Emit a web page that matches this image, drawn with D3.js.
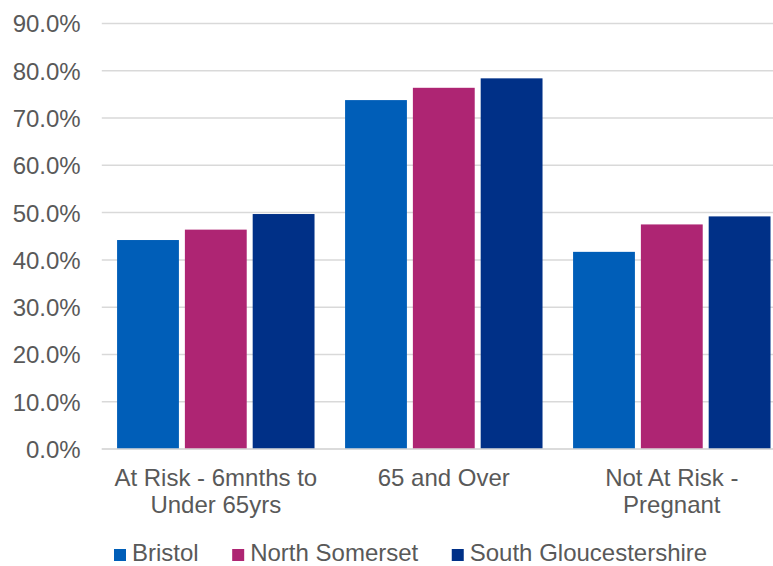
<!DOCTYPE html>
<html>
<head>
<meta charset="utf-8">
<script src="https://cdn.jsdelivr.net/npm/d3@7"></script>
<style>
  html, body { margin: 0; padding: 0; background: #ffffff; }
  svg { display: block; font-family: "Liberation Sans", Arial, sans-serif; }
</style>
</head>
<body>
<svg id="chart" width="773" height="566"></svg>
<script>
// Flu vaccine uptake by cohort and locality
const categories = ["At Risk - 6mnths to Under 65yrs", "65 and Over", "Not At Risk - Pregnant"];
const seriesNames = ["Bristol", "North Somerset", "South Gloucestershire"];
const bristol = [44.2, 73.8, 41.7];
const northSomerset = [46.4, 76.4, 47.5];
const southGlos = [49.7, 78.4, 49.2];
const yTicks = [0, 10, 20, 30, 40, 50, 60, 70, 80, 90];
const colors = ["#005EB8", "#AE2573", "#003087"];

const seriesValues = [bristol, northSomerset, southGlos];
const rows = categories.map((c, i) => ({
  category: c,
  values: seriesNames.map((s, j) => ({ series: s, value: seriesValues[j][i] }))
}));

const svg = d3.select("#chart");
const textColor = "#595959";
const gridColor = "#d9d9d9";
const fontSize = 24;

const x0 = d3.scaleBand()
  .domain(categories)
  .range([101.8, 785.8])
  .paddingInner(0.134)
  .paddingOuter(0.067);

const x1 = d3.scaleBand()
  .domain(seriesNames)
  .range([0, x0.bandwidth()])
  .paddingInner(0.088)
  .paddingOuter(0);

const y = d3.scaleLinear().domain([0, 90]).range([449, 23.5]);

// Gridlines
svg.append("g")
  .selectAll("line")
  .data(yTicks)
  .join("line")
  .attr("x1", 101.8)
  .attr("x2", 785.8)
  .attr("y1", d => y(d))
  .attr("y2", d => y(d))
  .attr("stroke", gridColor)
  .attr("stroke-width", 1.5);

// Y axis labels
const yAxis = d3.axisLeft(y)
  .tickValues(yTicks)
  .tickSize(0)
  .tickPadding(0)
  .tickFormat(d => d3.format(".1f")(d) + "%");

svg.append("g")
  .attr("transform", "translate(80.7,0)")
  .call(yAxis)
  .call(g => g.select(".domain").remove())
  .call(g => g.selectAll("text")
    .attr("fill", textColor)
    .attr("font-size", fontSize)
    .attr("font-family", "'Liberation Sans', Arial, sans-serif")
    .attr("dy", "0.35em"));

// Bars
svg.append("g")
  .selectAll("g")
  .data(rows)
  .join("g")
  .attr("transform", d => `translate(${x0(d.category)},0)`)
  .selectAll("rect")
  .data(d => d.values)
  .join("rect")
  .attr("x", d => x1(d.series))
  .attr("width", x1.bandwidth())
  .attr("y", d => y(d.value))
  .attr("height", d => y(0) - y(d.value))
  .attr("fill", (d, i) => colors[i]);

// Category axis line
svg.append("line")
  .attr("x1", 101.8)
  .attr("x2", 785.8)
  .attr("y1", y(0))
  .attr("y2", y(0))
  .attr("stroke", gridColor)
  .attr("stroke-width", 1.5);

// Category labels, wrapped to the band step
const xAxis = d3.axisBottom(x0).tickSize(0).tickPadding(0);
const xg = svg.append("g")
  .attr("transform", `translate(0,${y(0)})`)
  .call(xAxis)
  .call(g => g.select(".domain").remove());

xg.selectAll("text")
  .attr("fill", textColor)
  .attr("font-size", fontSize)
  .attr("font-family", "'Liberation Sans', Arial, sans-serif")
  .attr("y", 0)
  .attr("dy", null)
  .each(function (d) {
    const t = d3.select(this);
    const words = d.split(" ");
    t.text(null);
    const maxW = x0.step();
    let lines = [];
    let line = [];
    let tspan = t.append("tspan").attr("x", 0);
    words.forEach(w => {
      line.push(w);
      tspan.text(line.join(" "));
      if (tspan.node().getComputedTextLength() > maxW && line.length > 1) {
        line.pop();
        lines.push(line.join(" "));
        line = [w];
        tspan.text(w);
      }
    });
    lines.push(line.join(" "));
    t.text(null);
    lines.forEach((l, i) => {
      t.append("tspan")
        .attr("x", 0)
        .attr("y", 36.5 + i * 27.6)
        .text(l);
    });
  });

// Legend
const legend = svg.append("g").attr("transform", "translate(114,0)");
let lx = 0;
seriesNames.forEach((s, i) => {
  const item = legend.append("g").attr("transform", `translate(${lx},0)`);
  item.append("rect")
    .attr("x", 0)
    .attr("y", 549)
    .attr("width", 12)
    .attr("height", 12)
    .attr("fill", colors[i]);
  const txt = item.append("text")
    .attr("x", 18)
    .attr("y", 560.5)
    .attr("fill", textColor)
    .attr("font-size", fontSize)
    .text(s);
  lx += 18 + txt.node().getComputedTextLength() + 33.5;
});
</script>
</body>
</html>
